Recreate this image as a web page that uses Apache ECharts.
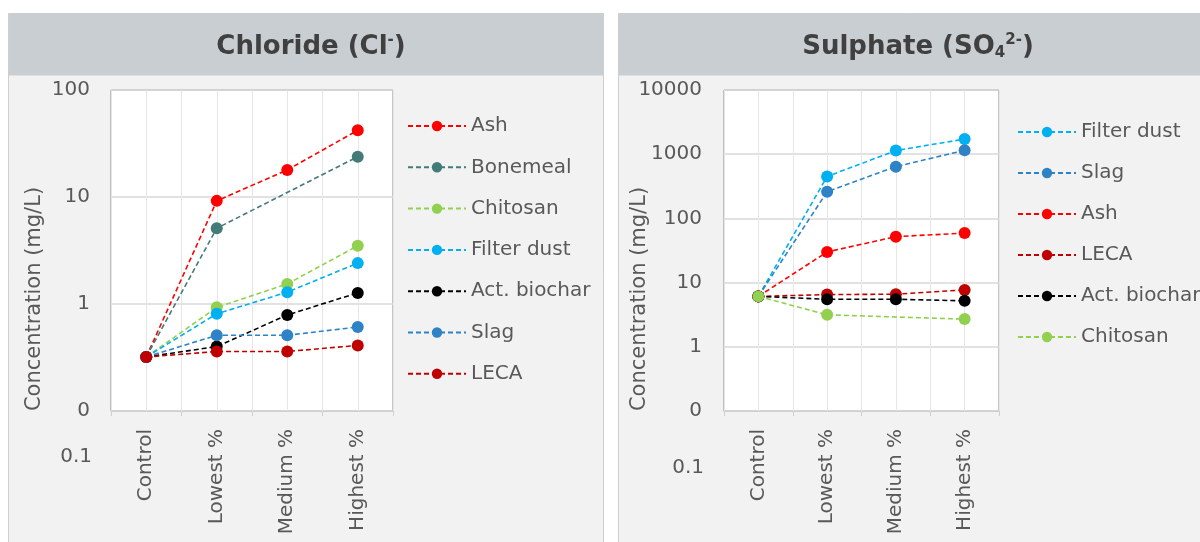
<!DOCTYPE html>
<html>
<head>
<meta charset="utf-8">
<script src="https://cdn.jsdelivr.net/npm/echarts@6/dist/echarts.min.js"></script>
<style>
  html, body { margin: 0; padding: 0; background: #ffffff; }
  #chart { width: 1200px; height: 542px; }
</style>
</head>
<body>
<div id="chart"></div>
<script>
// ---------- DATA ----------
const categories = ['Control', 'Lowest %', 'Medium %', 'Highest %'];

// Chloride (mg/L)
const clNames = ['Ash', 'Bonemeal', 'Chitosan', 'Filter dust', 'Act. biochar', 'Slag', 'LECA'];
const ashCl        = [0.32, 9.2, 17.9, 42];
const bonemealCl   = [0.32, 5.1, null, 23.8];
const chitosanCl   = [0.32, 0.93, 1.54, 3.5];
const filterDustCl = [0.32, 0.81, 1.29, 2.41];
const biocharCl    = [0.32, 0.40, 0.79, 1.27];
const slagCl       = [0.32, 0.51, 0.51, 0.61];
const lecaCl       = [0.32, 0.36, 0.36, 0.41];

// Sulphate (mg/L)
const so4Names = ['Filter dust', 'Slag', 'Ash', 'LECA', 'Act. biochar', 'Chitosan'];
const filterDustSO4 = [6.1, 450, 1140, 1720];
const slagSO4       = [6.1, 260, 640, 1150];
const ashSO4        = [6.1, 30, 52, 59];
const lecaSO4       = [6.1, 6.5, 6.6, 7.7];
const biocharSO4    = [6.1, 5.5, 5.5, 5.2];
const chitosanSO4   = [6.1, 3.15, null, 2.7];

const clTicksMax = 100;
const so4TicksMax = 10000;
const yMin = 0.1;
const yName = 'Concentration (mg/L)';
const strayLabel = '0.1';

// ---------- STYLE ----------
const colors = {
  'Ash': '#ff0000',
  'Bonemeal': '#427b78',
  'Chitosan': '#92d050',
  'Filter dust': '#00b0f0',
  'Act. biochar': '#000000',
  'Slag': '#2e82c6',
  'LECA': '#c00000'
};
const FONT = '"DejaVu Sans", sans-serif';
const TXT = '#595959';

function mkSeries(name, data, idx) {
  return {
    name: name, type: 'line', data: data,
    xAxisIndex: idx * 2, yAxisIndex: idx,
    connectNulls: true,
    symbol: 'circle', symbolSize: 12,
    itemStyle: { color: colors[name] },
    lineStyle: { color: colors[name], width: 1.6, type: [5, 3] },
    emphasis: { disabled: true },
    animation: false
  };
}

const clData = [ashCl, bonemealCl, chitosanCl, filterDustCl, biocharCl, slagCl, lecaCl];
const so4Data = [filterDustSO4, slagSO4, ashSO4, lecaSO4, biocharSO4, chitosanSO4];

const series = [];
clNames.forEach((n, i) => series.push(mkSeries(n, clData[i], 0)));
so4Names.forEach((n, i) => series.push(mkSeries(n, so4Data[i], 1)));

const grids = [
  { left: 111, top: 90, width: 282, height: 321, show: true, backgroundColor: '#ffffff', borderColor: '#8c8c8c', borderWidth: 1 },
  { left: 724, top: 90, width: 275, height: 321, show: true, backgroundColor: '#ffffff', borderColor: '#8c8c8c', borderWidth: 1 }
];

function catAxis(g) {
  return {
    type: 'category', gridIndex: g, data: categories, boundaryGap: true,
    axisLine: { lineStyle: { color: '#d0d0d0', width: 1 } },
    axisTick: { show: true, length: 5, lineStyle: { color: '#d0d0d0' } },
    splitLine: { show: false },
    axisLabel: { rotate: 90, margin: 18, color: TXT, fontSize: 20, fontFamily: FONT }
  };
}
function gridLinesAxis(g) {
  return {
    type: 'value', gridIndex: g, min: 0, max: 8, interval: 1,
    axisLine: { show: false }, axisTick: { show: false }, axisLabel: { show: false },
    splitLine: { show: true, lineStyle: { color: '#e6e6e6', width: 1 } }
  };
}
function logAxis(g, max, margin) {
  return {
    type: 'log', logBase: 10, gridIndex: g, min: yMin, max: max,
    axisLine: { show: false }, axisTick: { show: false },
    splitLine: { show: true, lineStyle: { color: '#d9d9d9', width: 1.5 } },
    axisLabel: {
      color: TXT, fontSize: 20, fontFamily: FONT, margin: margin,
      formatter: v => (v < 1 ? '0' : String(Math.round(v)))
    }
  };
}

const TF = '"DejaVu Sans", sans-serif';
const titleRich = {
  a: { fontSize: 26, fontWeight: 'bold', color: '#404040', fontFamily: TF },
  sup: { fontSize: 15, fontWeight: 'bold', color: '#404040', fontFamily: TF, padding: [0, 0, 14, 0] },
  sub: { fontSize: 15, fontWeight: 'bold', color: '#404040', fontFamily: TF, padding: [12, 0, 0, 0] }
};

const option = {
  backgroundColor: '#ffffff',
  animation: false,
  graphic: [
    { type: 'rect', shape: { x: 8.5, y: 13.5, width: 595, height: 540 }, style: { fill: '#f2f2f2', stroke: '#cfcfcf', lineWidth: 1 }, z: -10 },
    { type: 'rect', shape: { x: 8.5, y: 13.5, width: 595, height: 62 }, style: { fill: '#c9ced2' }, z: -9 },
    { type: 'rect', shape: { x: 618.5, y: 13.5, width: 600, height: 540 }, style: { fill: '#f2f2f2', stroke: '#cfcfcf', lineWidth: 1 }, z: -10 },
    { type: 'rect', shape: { x: 618.5, y: 13.5, width: 600, height: 62 }, style: { fill: '#c9ced2' }, z: -9 },
    { type: 'text', x: 35, y: 299, rotation: Math.PI / 2,
      style: { text: yName, textAlign: 'center', textVerticalAlign: 'middle', fill: TXT, font: '21px ' + FONT } },
    { type: 'text', x: 640, y: 299, rotation: Math.PI / 2,
      style: { text: yName, textAlign: 'center', textVerticalAlign: 'middle', fill: TXT, font: '21px ' + FONT } },
    { type: 'text', style: { text: strayLabel, x: 92, y: 457, textAlign: 'right', textVerticalAlign: 'middle', fill: TXT, font: '20px ' + FONT } },
    { type: 'text', style: { text: strayLabel, x: 704, y: 468, textAlign: 'right', textVerticalAlign: 'middle', fill: TXT, font: '20px ' + FONT } }
  ],
  title: [
    { text: '{a|Chloride (Cl}{sup|-}{a|)}', left: 306, top: 42, textAlign: 'center', textVerticalAlign: 'middle',
      textStyle: { rich: titleRich } },
    { text: '{a|Sulphate (SO}{sub|4}{sup|2-}{a|)}', left: 913, top: 42, textAlign: 'center', textVerticalAlign: 'middle',
      textStyle: { rich: titleRich } }
  ],
  legend: [
    { data: clNames, orient: 'vertical', left: 407, top: 116, padding: 0, itemWidth: 58, itemHeight: 13, itemGap: 21.3,
      textStyle: { color: TXT, fontSize: 20, fontFamily: FONT, lineHeight: 20 }, selectedMode: false },
    { data: so4Names, orient: 'vertical', left: 1017, top: 122, padding: 0, itemWidth: 58, itemHeight: 13, itemGap: 21,
      textStyle: { color: TXT, fontSize: 20, fontFamily: FONT, lineHeight: 20 }, selectedMode: false }
  ],
  grid: grids,
  xAxis: [catAxis(0), gridLinesAxis(0), catAxis(1), gridLinesAxis(1)],
  yAxis: [logAxis(0, clTicksMax, 21), logAxis(1, so4TicksMax, 22)],
  series: series
};

const chart = echarts.init(document.getElementById('chart'), null, { renderer: 'canvas', width: 1200, height: 542 });
chart.setOption(option);
</script>
</body>
</html>
